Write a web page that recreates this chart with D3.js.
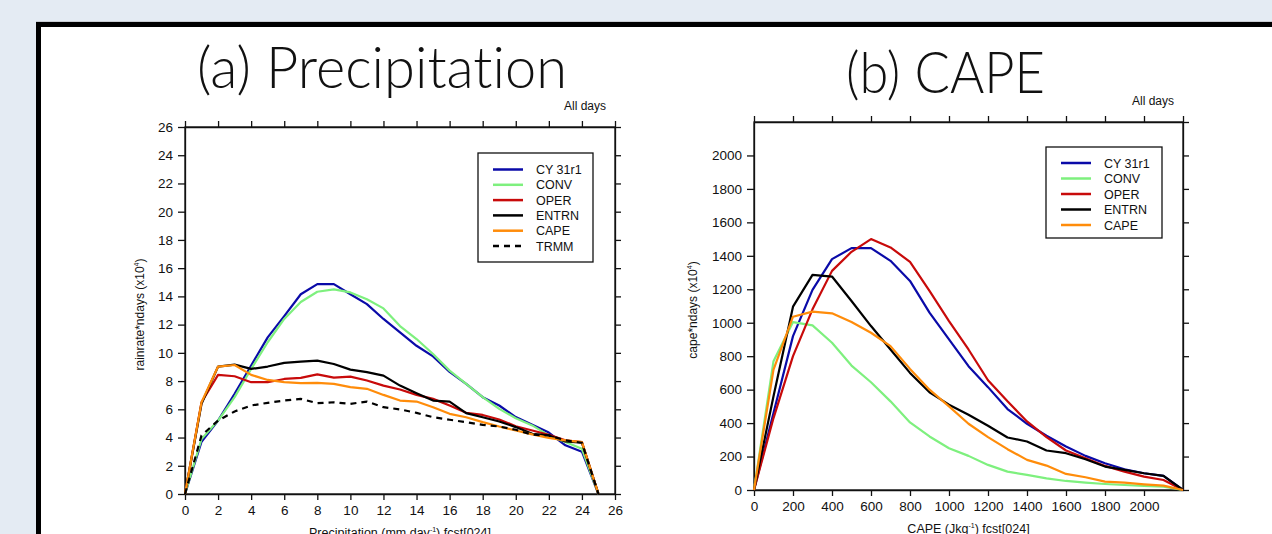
<!DOCTYPE html>
<html>
<head>
<meta charset="utf-8">
<script src="https://cdn.jsdelivr.net/npm/d3@7"></script>
<style>
  html, body { margin: 0; padding: 0; background: #e4ebf3; overflow: hidden; }
  svg { display: block; }
  .tick text { font-family: "Liberation Sans", Arial, sans-serif; font-size: 13.5px; fill: #111; }
  .tick line, .domain { stroke: #111; stroke-width: 1.3; }
</style>
</head>
<body>
<script>
// ---- data ----
var precipBins = d3.range(0, 26);          // 0..25 mm/day
var precipCY31r1 = [0, 3.7, 5.2, 7.1, 9.1, 11.1, 12.6, 14.15, 14.87, 14.87, 14.15, 13.45, 12.4, 11.45, 10.5, 9.75, 8.65, 7.8, 6.86, 6.27, 5.45, 4.9, 4.35, 3.45, 3.0, 0];
var precipCONV   = [0, 3.9, 5.2, 6.86, 8.86, 10.75, 12.4, 13.6, 14.33, 14.5, 14.28, 13.8, 13.15, 11.9, 10.98, 9.92, 8.74, 7.8, 6.86, 6.03, 5.37, 4.86, 4.15, 3.68, 3.2, 0];
var precipOPER   = [0, 6.5, 8.44, 8.34, 7.92, 7.92, 8.15, 8.23, 8.48, 8.25, 8.32, 8.04, 7.68, 7.4, 7.02, 6.74, 6.27, 5.75, 5.6, 5.28, 4.8, 4.5, 4.2, 3.8, 3.68, 0];
var precipENTRN  = [0, 6.39, 9.03, 9.17, 8.86, 9.03, 9.29, 9.38, 9.45, 9.21, 8.81, 8.63, 8.39, 7.68, 7.14, 6.62, 6.55, 5.73, 5.44, 5.14, 4.74, 4.27, 4.15, 3.72, 3.63, 0];
var precipCAPE   = [0, 6.5, 9.03, 9.14, 8.44, 8.08, 7.92, 7.85, 7.87, 7.8, 7.57, 7.45, 7.02, 6.62, 6.55, 6.15, 5.68, 5.44, 5.09, 4.78, 4.5, 4.22, 3.98, 3.8, 3.68, 0];
var precipTRMM   = [0, 4.15, 5.2, 5.85, 6.27, 6.46, 6.62, 6.74, 6.43, 6.5, 6.39, 6.55, 6.15, 5.99, 5.75, 5.44, 5.26, 5.09, 4.9, 4.78, 4.55, 4.2, 4.15, 3.8, 3.63, 0];

var capeBins = d3.range(0, 2201, 100);     // 0..2200 J/kg
var capeCY31r1 = [0, 460, 920, 1196, 1380, 1446, 1446, 1370, 1250, 1060, 900, 740, 615, 484, 396, 324, 260, 204, 160, 124, 100, 84, 0];
var capeCONV   = [0, 770, 1004, 984, 880, 744, 644, 530, 404, 320, 250, 204, 150, 110, 90, 70, 54, 44, 36, 30, 24, 20, 0];
var capeOPER   = [0, 430, 800, 1080, 1310, 1424, 1500, 1450, 1364, 1190, 1010, 840, 656, 530, 410, 316, 236, 190, 144, 110, 80, 60, 0];
var capeENTRN  = [0, 560, 1096, 1286, 1276, 1130, 980, 840, 700, 584, 510, 450, 384, 314, 290, 236, 220, 184, 140, 120, 100, 84, 0];
var capeCAPE   = [0, 720, 1036, 1066, 1056, 1004, 940, 860, 724, 600, 500, 396, 316, 244, 180, 146, 96, 76, 50, 44, 34, 26, 0];

var seriesNames = ["CY 31r1", "CONV", "OPER", "ENTRN", "CAPE", "TRMM"];
var seriesColors = ["#0a0aa8", "#7ef07e", "#c80a0a", "#000000", "#ff8c0a", "#000000"];

var precipTicks = d3.range(0, 27, 2);
var capeTicks = d3.range(0, 2001, 200);

// ---- page ----
var W = 1272, H = 534;
var svg = d3.select("body").append("svg").attr("width", W).attr("height", H);

// white sheet with heavy border
svg.append("rect").attr("x", 36).attr("y", 21).attr("width", W).attr("height", H)
   .attr("fill", "#c8ccd2");
svg.append("rect").attr("x", 36).attr("y", 22).attr("width", W).attr("height", H)
   .attr("fill", "#000");
svg.append("rect").attr("x", 41).attr("y", 27).attr("width", W).attr("height", H)
   .attr("fill", "#fff");

var font = '"Liberation Sans", Arial, sans-serif';

function drawPanel(p) {
  var x = d3.scaleLinear().domain(p.xDomain).range([p.left, p.right]);
  var y = d3.scaleLinear().domain(p.yDomain).range([p.bottom, p.top]);
  var g = svg.append("g");

  // title
  g.append("text").attr("x", p.titleX).attr("y", p.titleY)
    .attr("textLength", p.titleLen).attr("lengthAdjust", "spacingAndGlyphs")
    .style("font-family", "Lato, 'Open Sans', sans-serif").style("font-weight", 300)
    .style("font-variant-ligatures", "none").style("font-feature-settings", "'liga' 0")
    .style("font-size", "58px").attr("fill", "#111").text(p.title);

  g.append("text").attr("x", p.right - 9).attr("y", p.top - 17)
    .attr("text-anchor", "end").style("font-family", font).style("font-size", "12px")
    .attr("fill", "#111").text("All days");

  // frame
  g.append("rect").attr("x", p.left).attr("y", p.top)
    .attr("width", p.right - p.left).attr("height", p.bottom - p.top)
    .attr("fill", "none").attr("stroke", "#111").attr("stroke-width", 1.3);

  // axes
  g.append("g").attr("transform", "translate(0," + p.bottom + ")")
    .call(d3.axisBottom(x).tickValues(p.xTicks).tickSize(6).tickSizeOuter(0).tickPadding(5)
      .tickFormat(d3.format("d")));
  g.append("g").attr("transform", "translate(" + p.left + ",0)")
    .call(d3.axisLeft(y).tickValues(p.yTicks).tickSize(7).tickSizeOuter(0).tickPadding(5)
      .tickFormat(d3.format("d")));
  g.append("g").attr("transform", "translate(0," + p.top + ")")
    .call(d3.axisTop(x).tickValues(p.topTicks).tickSize(6).tickSizeOuter(0).tickFormat(""));
  g.append("g").attr("transform", "translate(" + p.right + ",0)")
    .call(d3.axisRight(y).tickValues(p.rightTicks).tickSize(6).tickSizeOuter(0).tickFormat(""));

  // axis titles
  var yt = g.append("text")
    .attr("transform", "translate(" + p.yTitleX + "," + ((p.top + p.bottom) / 2 + 4) + ") rotate(-90)")
    .attr("text-anchor", "middle").style("font-family", font).style("font-size", "12px")
    .attr("fill", "#111");
  yt.append("tspan").text(p.yTitle + " (x10");
  yt.append("tspan").attr("dy", -5).style("font-size", "7px").text("4");
  yt.append("tspan").attr("dy", 5).text(")");

  var xt = g.append("text").attr("x", (p.left + p.right) / 2).attr("y", p.bottom + 43)
    .attr("text-anchor", "middle").style("font-family", font).style("font-size", "12.5px")
    .attr("fill", "#111");
  xt.append("tspan").text(p.xTitle + " (" + p.xUnit);
  xt.append("tspan").attr("dy", -5).style("font-size", "7px").text("-1");
  xt.append("tspan").attr("dy", 5).text(")  fcst[024]");

  // lines
  var line = d3.line().x(function(d) { return x(d[0]); }).y(function(d) { return y(d[1]); });
  p.series.forEach(function(s, i) {
    var pts = p.bins.map(function(b, j) { return [b, s[j]]; });
    g.append("path").datum(pts).attr("d", line)
      .attr("fill", "none").attr("stroke", seriesColors[i]).attr("stroke-width", 2.2)
      .attr("stroke-linejoin", "round")
      .attr("stroke-dasharray", seriesNames[i] === "TRMM" ? "6,5" : null);
  });

  // legend
  var lg = g.append("g");
  var n = p.series.length;
  lg.append("rect").attr("x", p.legX).attr("y", p.legY)
    .attr("width", p.legW).attr("height", p.legH)
    .attr("fill", "#fff").attr("stroke", "#111").attr("stroke-width", 1.3);
  for (var i = 0; i < n; i++) {
    var ry = p.legY + p.legPad + i * p.legStep;
    lg.append("line").attr("x1", p.legX + 15).attr("x2", p.legX + 45)
      .attr("y1", ry).attr("y2", ry)
      .attr("stroke", seriesColors[i]).attr("stroke-width", 2.5)
      .attr("stroke-dasharray", seriesNames[i] === "TRMM" ? "6,5" : null);
    lg.append("text").attr("x", p.legX + 58).attr("y", ry + 4.5)
      .style("font-family", font).style("font-size", "12.5px").attr("fill", "#111")
      .text(seriesNames[i]);
  }
}

drawPanel({
  title: "(a) Precipitation", titleX: 197, titleY: 88, titleLen: 370,
  left: 185, right: 615, top: 127, bottom: 494,
  xDomain: [0, 26], yDomain: [0, 26],
  xTicks: precipTicks, yTicks: precipTicks, topTicks: precipTicks, rightTicks: precipTicks,
  yTitle: "rainrate*ndays", yTitleX: 144,
  xTitle: "Precipitation", xUnit: "mm day",
  bins: precipBins,
  series: [precipCY31r1, precipCONV, precipOPER, precipENTRN, precipCAPE, precipTRMM],
  legX: 478, legY: 153, legW: 115, legH: 109, legPad: 16.5, legStep: 15.3
});

drawPanel({
  title: "(b) CAPE", titleX: 846, titleY: 93, titleLen: 199,
  left: 754, right: 1183, top: 122, bottom: 490,
  xDomain: [0, 2200], yDomain: [0, 2200],
  xTicks: capeTicks, yTicks: capeTicks,
  topTicks: d3.range(0, 2201, 200), rightTicks: d3.range(0, 2201, 200),
  yTitle: "cape*ndays", yTitleX: 697,
  xTitle: "CAPE", xUnit: "Jkg",
  bins: capeBins,
  series: [capeCY31r1, capeCONV, capeOPER, capeENTRN, capeCAPE],
  legX: 1046, legY: 147, legW: 116, legH: 91, legPad: 16, legStep: 15.5
});
</script>
</body>
</html>
